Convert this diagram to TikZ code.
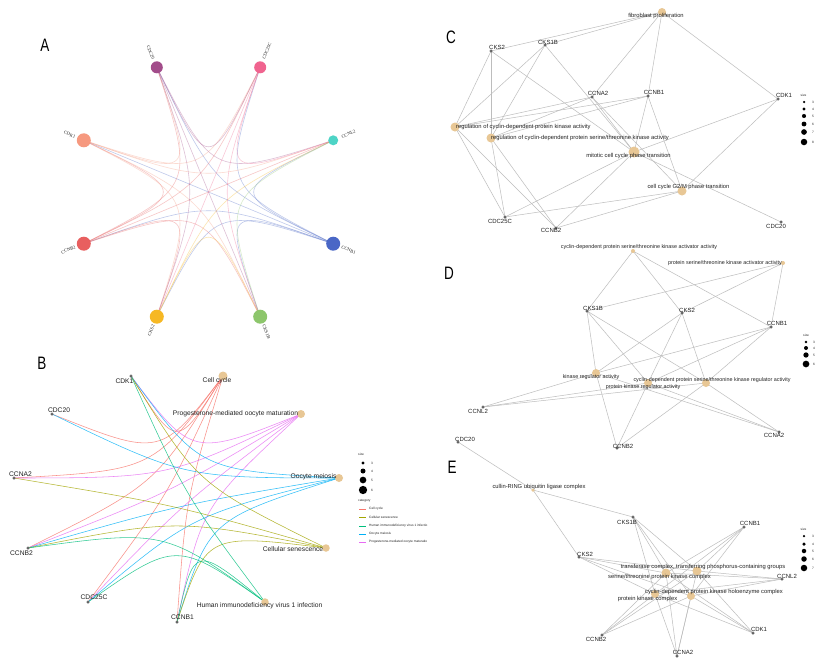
\documentclass[tikz,border=0pt]{standalone}
\usepackage{fontspec}
\usepackage{graphicx}
\setmainfont{Liberation Sans}
\newfontfamily\serifA{Liberation Serif}
\usetikzlibrary{calc}
\definecolor{cAcdc20}{HTML}{A24C8A}
\definecolor{cAcdc25c}{HTML}{F0648F}
\definecolor{cAccnl2}{HTML}{4DD4C6}
\definecolor{cAccnb1}{HTML}{4A67C6}
\definecolor{cAcks1b}{HTML}{8DC66C}
\definecolor{cAcks2}{HTML}{F6B824}
\definecolor{cAccnb2}{HTML}{E85F5F}
\definecolor{cAcdk1}{HTML}{F6997F}
\definecolor{termc}{HTML}{E8C795}
\definecolor{edgec}{HTML}{BDBDBD}
\definecolor{gdotc}{HTML}{555555}
\definecolor{txtc}{HTML}{222222}
\definecolor{kcc}{HTML}{F8766D}
\definecolor{kcs}{HTML}{A3A500}
\definecolor{khiv}{HTML}{00BF7D}
\definecolor{koo}{HTML}{00B0F6}
\definecolor{kpr}{HTML}{E76BF3}
\pgfdeclarelayer{bg}
\pgfdeclarelayer{edges}
\pgfsetlayers{bg,edges,main}
\tikzset{
 gdot/.style={circle, fill=gdotc, draw=gdotc!60!white, line width=.3pt, inner sep=0pt, minimum size=3pt},
 tnode/.style={circle, fill=termc, inner sep=0pt, minimum size=#1},
 glab/.style={inner sep=0pt, text=txtc, font=\fontsize{6}{6.5}\selectfont},
 tlabc/.style={inner sep=0pt, text=txtc, font=\fontsize{5.8}{6.2}\selectfont},
 tlabd/.style={inner sep=0pt, text=txtc, font=\fontsize{5.4}{6}\selectfont},
 tlabe/.style={inner sep=0pt, text=txtc, font=\fontsize{5.8}{6.2}\selectfont},
 blab/.style={inner sep=0pt, text=txtc, font=\fontsize{6.7}{7.2}\selectfont},
 gedge/.style={draw=edgec, line width=.5pt},
 bedge/.style={line width=.55pt, opacity=.8},
 panel/.style={inner sep=0pt, font=\fontsize{18}{18}\selectfont},
 anode/.style={circle, inner sep=0pt, minimum size=#1},
 alab/.style={inner sep=0pt, font=\serifA\fontsize{4.6}{5}\selectfont, text=txtc},
 legt/.style={inner sep=0pt, font=\fontsize{3.2}{3.6}\selectfont, text=txtc},
 ldot/.style={circle, fill=black, inner sep=0pt, minimum size=#1},
}
\begin{document}
\begin{tikzpicture}[x=1pt,y=-1pt]
\useasboundingbox (0,0) rectangle (822,665);
\begin{pgfonlayer}{bg}
\fill[white] (0,0) rectangle (822,665);
\end{pgfonlayer}

% ================= Panel A =================
\node[panel] (pA) at (45,45) {\scalebox{0.75}[1]{A}};
\coordinate (OA) at (208.5,192);
\node[anode=12pt, fill=cAcdc20]  (a-cdc20)  at (156.8,67.3) {};
\node[anode=12pt, fill=cAcdc25c] (a-cdc25c) at (260.2,67.3) {};
\node[anode=10pt, fill=cAccnl2]  (a-ccnl2)  at (333.2,140.3) {};
\node[anode=14pt, fill=cAccnb1]  (a-ccnb1)  at (333.2,243.7) {};
\node[anode=14pt, fill=cAcks1b]  (a-cks1b)  at (260.2,316.7) {};
\node[anode=14pt, fill=cAcks2]   (a-cks2)   at (156.8,316.7) {};
\node[anode=14pt, fill=cAccnb2]  (a-ccnb2)  at (83.8,243.7) {};
\node[anode=14pt, fill=cAcdk1]   (a-cdk1)   at (83.8,140.3) {};
\node[alab, anchor=west, rotate=22.5]  (a-ccnl2-l)  at (341.6,137.0) {CCNL2};
\node[alab, anchor=west, rotate=67.5]  (a-cdc25c-l) at (263.6,59.0) {CDC25C};
\node[alab, anchor=east, rotate=-67.5] (a-cdc20-l)  at (153.4,59.0) {CDC20};
\node[alab, anchor=east, rotate=-22.5] (a-cdk1-l)   at (75.4,137.0) {CDK1};
\node[alab, anchor=east, rotate=22.5]  (a-ccnb2-l)  at (75.4,247.0) {CCNB2};
\node[alab, anchor=east, rotate=67.5]  (a-cks2-l)   at (153.4,325.0) {CKS2};
\node[alab, anchor=west, rotate=-67.5] (a-cks1b-l)  at (263.6,325.0) {CKS1B};
\node[alab, anchor=west, rotate=-22.5] (a-ccnb1-l)  at (341.6,247.0) {CCNB1};
\begin{pgfonlayer}{edges}
\foreach \i/\j/\c in {ccnb1/ccnb2/cAccnb1, ccnb1/cdk1/cAccnb1, ccnb1/cdc20/cAccnb1, ccnb1/cdc25c/cAccnb1, ccnb1/cks2/cAccnb1, ccnb1/cks1b/cAccnb1, ccnb1/ccnl2/cAccnb1,
 ccnb2/cdk1/cAccnb2, ccnb2/cdc20/cAccnb2, ccnb2/cdc25c/cAccnb2, ccnb2/cks2/cAccnb2, ccnb2/cks1b/cAccnb2, ccnb2/ccnl2/cAccnb2,
 cdk1/cdc20/cAcdk1, cdk1/cdc25c/cAcdk1, cdk1/cks2/cAcdk1, cdk1/cks1b/cAcdk1, cdk1/ccnl2/cAcdk1,
 cdc20/cdc25c/cAcdc20, cdc20/cks2/cAcdc20, cdc20/cks1b/cAcdc20, cdc20/ccnl2/cAcdc20,
 cdc25c/cks2/cAcdc25c, cdc25c/cks1b/cAcdc25c, cdc25c/ccnl2/cAcdc25c,
 cks2/cks1b/cAcks2, cks2/ccnl2/cAcks2, cks1b/ccnl2/cAcks1b}
 {\draw[draw=\c, opacity=.35, line width=.6pt] (a-\i.center) .. controls ($(a-\i)!0.5!(a-\j)!0.85!(OA)$) .. (a-\j.center);}
\end{pgfonlayer}

% ================= Panel B =================
\node[panel] (pB) at (42,363) {\scalebox{0.75}[1]{B}};
\coordinate (OB) at (176.5,499);
\node[gdot] (b-cdk1)   at (131,376) {};
\node[gdot] (b-cdc20)  at (52,414) {};
\node[gdot] (b-ccna2)  at (14,478) {};
\node[gdot] (b-ccnb2)  at (28,548) {};
\node[gdot] (b-cdc25c) at (88,602) {};
\node[gdot] (b-ccnb1)  at (177,622) {};
\node[tnode=9pt] (b-cc)  at (223,376) {};
\node[tnode=8pt] (b-pr)  at (301,414) {};
\node[tnode=8pt] (b-oo)  at (339,478) {};
\node[tnode=7.5pt] (b-cs)  at (326,548) {};
\node[tnode=7.5pt] (b-hiv) at (265,602) {};
\begin{pgfonlayer}{edges}
\foreach \g/\p/\c in {cdk1/cc/kcc, cdc20/cc/kcc, ccna2/cc/kcc, ccnb2/cc/kcc, cdc25c/cc/kcc, ccnb1/cc/kcc,
 cdk1/pr/kpr, ccna2/pr/kpr, ccnb2/pr/kpr, cdc25c/pr/kpr, ccnb1/pr/kpr,
 cdk1/oo/koo, cdc20/oo/koo, ccnb2/oo/koo, cdc25c/oo/koo, ccnb1/oo/koo,
 cdk1/cs/kcs, ccna2/cs/kcs, ccnb2/cs/kcs, ccnb1/cs/kcs,
 cdk1/hiv/khiv, ccnb2/hiv/khiv, cdc25c/hiv/khiv, ccnb1/hiv/khiv}
 {\draw[bedge, draw=\c] (b-\g.center) .. controls ($(b-\g)!0.5!(b-\p)!0.6!(OB)$) .. (b-\p.center);}
\end{pgfonlayer}
\node[blab] (b-cdk1-l)   at (124.5,381) {CDK1};
\node[blab] (b-cdc20-l)  at (59,410) {CDC20};
\node[blab] (b-ccna2-l)  at (20.5,474) {CCNA2};
\node[blab] (b-ccnb2-l)  at (21.5,553) {CCNB2};
\node[blab] (b-cdc25c-l) at (94,597) {CDC25C};
\node[blab] (b-ccnb1-l)  at (182.5,617) {CCNB1};
\node[blab] (b-cc-l)  at (217,381) {Cell cycle};
\node[blab] (b-pr-l)  at (235.5,414) {Progesterone-mediated oocyte maturation};
\node[blab] (b-oo-l)  at (313.5,477) {Oocyte meiosis};
\node[blab] (b-cs-l)  at (293,549) {Cellular senescence};
\node[blab] (b-hiv-l) at (259.5,606) {Human immunodeficiency virus 1 infection};
% legend B
\node[legt, anchor=west] (bl-size) at (358,454) {size};
\node[ldot=3.3pt] (bl-d3) at (363,463) {};
\node[ldot=5pt]   (bl-d4) at (363,471) {};
\node[ldot=6.7pt] (bl-d5) at (363,480) {};
\node[ldot=8.3pt] (bl-d6) at (363,490) {};
\node[legt] (bl-n3) at (372,463) {3};
\node[legt] (bl-n4) at (372,471) {4};
\node[legt] (bl-n5) at (372,480) {5};
\node[legt] (bl-n6) at (372,490) {6};
\node[legt, anchor=west] (bl-cat) at (358,501) {category};
\foreach \y/\c/\t [count=\k] in {509/kcc/Cell cycle, 517/kcs/Cellular senescence, 526/khiv/Human immunodeficiency virus 1 infectio, 534/koo/Oocyte meiosis, 542/kpr/Progesterone-mediated oocyte maturatio}
 {\coordinate (bl-s\k) at (359,\y); \coordinate (bl-e\k) at (366,\y);
  \draw[draw=\c, line width=.5pt] (bl-s\k) -- (bl-e\k);
  \node[legt, anchor=west] (bl-t\k) at (369,\y) {\t};}

% ================= Panel C =================
\node[panel] (pC) at (451,37) {\scalebox{0.75}[1]{C}};
\node[gdot] (c-cks2)   at (491,51) {};
\node[gdot] (c-cks1b)  at (545,45) {};
\node[gdot] (c-ccna2)  at (592,97) {};
\node[gdot] (c-ccnb1)  at (648,96) {};
\node[gdot] (c-cdk1)   at (778,99) {};
\node[gdot] (c-cdc25c) at (505,217) {};
\node[gdot] (c-ccnb2)  at (556,228) {};
\node[gdot] (c-cdc20)  at (781,222) {};
\node[tnode=8pt]  (c-fib)  at (662,12) {};
\node[tnode=9pt]  (c-reg1) at (455,127) {};
\node[tnode=9pt]  (c-reg2) at (491,138) {};
\node[tnode=11pt] (c-mit)  at (634,152) {};
\node[tnode=9pt]  (c-g2m)  at (682,191) {};
\begin{pgfonlayer}{edges}
\foreach \t/\g in {fib/cks2, fib/cks1b, fib/ccna2, fib/ccnb1, fib/cdk1,
 reg1/cks2, reg1/cks1b, reg1/ccna2, reg1/ccnb1, reg1/cdc25c, reg1/ccnb2,
 reg2/cks2, reg2/cks1b, reg2/ccna2, reg2/ccnb1, reg2/cdc25c, reg2/ccnb2,
 mit/cks2, mit/cks1b, mit/ccna2, mit/ccnb1, mit/cdk1, mit/cdc25c, mit/ccnb2, mit/cdc20,
 g2m/ccna2, g2m/ccnb1, g2m/cdk1, g2m/cdc25c, g2m/ccnb2}
 {\draw[gedge] (c-\t.center) -- (c-\g.center);}
\end{pgfonlayer}
\node[glab] (c-cks2-l)   at (497,47) {CKS2};
\node[glab] (c-cks1b-l)  at (548,42) {CKS1B};
\node[glab] (c-ccna2-l)  at (598,93) {CCNA2};
\node[glab] (c-ccnb1-l)  at (654,92) {CCNB1};
\node[glab] (c-cdk1-l)   at (784,95) {CDK1};
\node[glab] (c-cdc25c-l) at (500,221) {CDC25C};
\node[glab] (c-ccnb2-l)  at (551,230) {CCNB2};
\node[glab] (c-cdc20-l)  at (776,226) {CDC20};
\node[tlabc] (c-fib-l) at (656,16) {fibroblast proliferation};
\node[tlabc, anchor=west] (c-reg1-l) at (456,127) {regulation of cyclin-dependent protein kinase activity};
\node[tlabc, anchor=west] (c-reg2-l) at (491,138) {regulation of cyclin-dependent protein serine/threonine kinase activity};
\node[tlabc] (c-mit-l) at (628.5,156) {mitotic cell cycle phase transition};
\node[tlabc] (c-g2m-l) at (688.5,187) {cell cycle G2/M phase transition};
\node[legt, anchor=west] (cl-size) at (800.5,95) {size};
\foreach \y/\d/\n in {102/2.5/3, 109/3.3/4, 116/4.1/5, 124/4.9/6, 132/5.7/7, 142/6.5/8}
 {\node[ldot=\d pt] (cl-d\n) at (804,\y) {}; \node[legt] (cl-n\n) at (813,\y) {\n};}

% ================= Panel D =================
\node[panel] (pD) at (449,273) {\scalebox{0.75}[1]{D}};
\node[gdot] (d-cks1b) at (587,311) {};
\node[gdot] (d-cks2)  at (682,313) {};
\node[gdot] (d-ccnb1) at (771,327) {};
\node[gdot] (d-ccnl2) at (483,407) {};
\node[gdot] (d-ccna2) at (779,432) {};
\node[gdot] (d-ccnb2) at (617,448) {};
\node[tnode=4pt] (d-act1) at (633,251) {};
\node[tnode=4pt] (d-act2) at (783,263) {};
\node[tnode=8pt] (d-kin)  at (596,373) {};
\node[tnode=8pt] (d-pkr)  at (648,383) {};
\node[tnode=8pt] (d-cdkr) at (706,383) {};
\begin{pgfonlayer}{edges}
\foreach \t/\g in {act1/cks1b, act1/cks2, act1/ccnb1, act2/cks1b, act2/cks2, act2/ccnb1,
 kin/cks1b, kin/cks2, kin/ccnb1, kin/ccnl2, kin/ccna2, kin/ccnb2,
 pkr/cks1b, pkr/cks2, pkr/ccnb1, pkr/ccnl2, pkr/ccna2, pkr/ccnb2,
 cdkr/cks1b, cdkr/cks2, cdkr/ccnb1, cdkr/ccnl2, cdkr/ccna2, cdkr/ccnb2}
 {\draw[gedge] (d-\t.center) -- (d-\g.center);}
\end{pgfonlayer}
\node[glab] (d-cks1b-l) at (593,308) {CKS1B};
\node[glab] (d-cks2-l)  at (687,310) {CKS2};
\node[glab] (d-ccnb1-l) at (777,323) {CCNB1};
\node[glab] (d-ccnl2-l) at (478,411) {CCNL2};
\node[glab] (d-ccna2-l) at (774,435) {CCNA2};
\node[glab] (d-ccnb2-l) at (623,446) {CCNB2};
\node[tlabd] (d-act1-l) at (639,247) {cyclin-dependent protein serine/threonine kinase activator activity};
\node[tlabd] (d-act2-l) at (725,263) {protein serine/threonine kinase activator activity};
\node[tlabd] (d-kin-l)  at (591,377) {kinase regulator activity};
\node[tlabd] (d-pkr-l)  at (643,387) {protein kinase regulator activity};
\node[tlabd] (d-cdkr-l) at (712,380) {cyclin-dependent protein serine/threonine kinase regulator activity};
\node[legt, anchor=west] (dl-size) at (803,335) {size};
\foreach \y/\d/\n in {342/2.7/3, 348/4/4, 355/5.3/5, 364/6.7/6}
 {\node[ldot=\d pt] (dl-d\n) at (806,\y) {}; \node[legt] (dl-n\n) at (814,\y) {\n};}

% ================= Panel E =================
\node[panel] (pE) at (452,467) {\scalebox{0.75}[1]{E}};
\node[gdot] (e-cdc20) at (458,442) {};
\node[gdot] (e-cks1b) at (633,517) {};
\node[gdot] (e-ccnb1) at (744,527) {};
\node[gdot] (e-cks2)  at (579,557) {};
\node[gdot] (e-ccnl2) at (782,579) {};
\node[gdot] (e-cdk1)  at (753,633) {};
\node[gdot] (e-ccnb2) at (602,635) {};
\node[gdot] (e-ccna2) at (677,656) {};
\node[tnode=3.5pt] (e-cul)   at (533,490) {};
\node[tnode=9pt]   (e-trans) at (697,571) {};
\node[tnode=9pt]   (e-stk)   at (666,573) {};
\node[tnode=8pt]   (e-cdkh)  at (691,596) {};
\node[tnode=8pt]   (e-pkc)   at (655,594) {};
\begin{pgfonlayer}{edges}
\foreach \t/\g in {cul/cdc20, cul/cks1b, cul/cks2}
 {\draw[gedge] (e-\t.center) -- (e-\g.center);}
\foreach \t in {trans, stk, cdkh, pkc}
 {\foreach \g in {cks1b, ccnb1, cks2, ccnl2, cdk1, ccnb2, ccna2}
  {\draw[gedge] (e-\t.center) -- (e-\g.center);}}
\end{pgfonlayer}
\node[glab] (e-cdc20-l) at (465,439) {CDC20};
\node[glab] (e-cks1b-l) at (627,522) {CKS1B};
\node[glab] (e-ccnb1-l) at (750,523) {CCNB1};
\node[glab] (e-cks2-l)  at (585,554) {CKS2};
\node[glab] (e-ccnl2-l) at (787,576) {CCNL2};
\node[glab] (e-cdk1-l)  at (759,629) {CDK1};
\node[glab] (e-ccnb2-l) at (596,639) {CCNB2};
\node[glab] (e-ccna2-l) at (683,652) {CCNA2};
\node[tlabe] (e-cul-l)   at (539,487) {cullin-RING ubiquitin ligase complex};
\node[tlabe] (e-trans-l) at (703,567) {transferase complex, transferring phosphorus-containing groups};
\node[tlabe] (e-stk-l)   at (659.5,577) {serine/threonine protein kinase complex};
\node[tlabe] (e-cdkh-l)  at (714,592) {cyclin-dependent protein kinase holoenzyme complex};
\node[tlabe] (e-pkc-l)   at (647.5,599) {protein kinase complex};
\node[legt, anchor=west] (el-size) at (800.5,529) {size};
\foreach \y/\d/\n in {536/2.5/3, 544/3.5/4, 551/4.5/5, 559/5.5/6, 568/6.5/7}
 {\node[ldot=\d pt] (el-d\n) at (804,\y) {}; \node[legt] (el-n\n) at (813,\y) {\n};}
\end{tikzpicture}
\end{document}
